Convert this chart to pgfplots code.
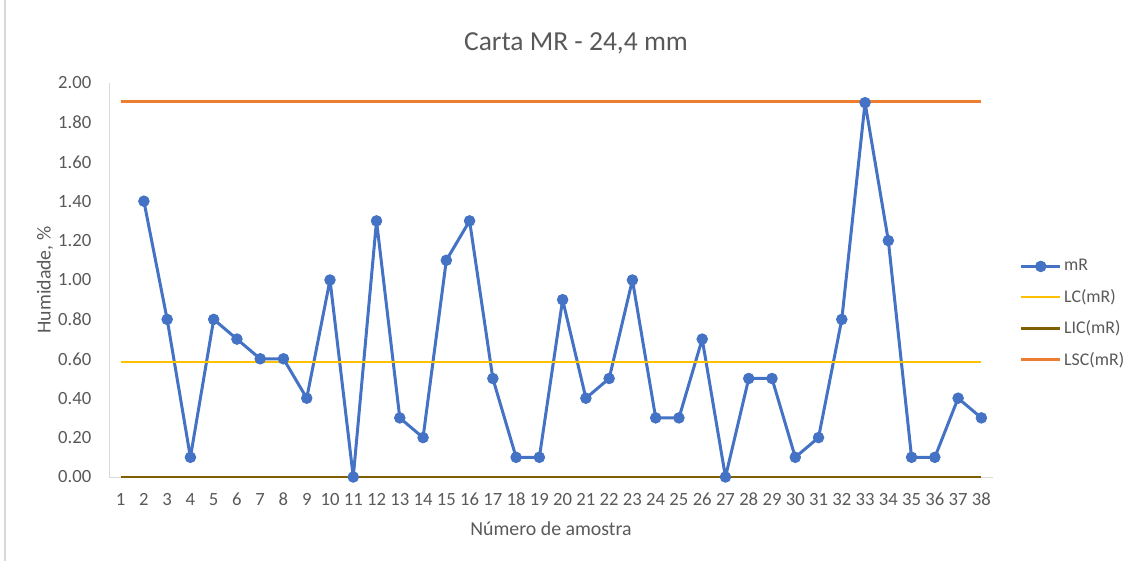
\documentclass[border=0pt]{standalone}
\usepackage{fontspec}
\setmainfont{Carlito}
\usepackage{pgfplots}
\pgfplotsset{compat=1.18}
\definecolor{mrblue}{HTML}{4472C4}
\definecolor{lcyel}{HTML}{FFC000}
\definecolor{licbrown}{HTML}{7F6000}
\definecolor{lscorange}{HTML}{ED7D31}
\definecolor{txtgray}{HTML}{595959}
\definecolor{axgray}{HTML}{D9D9D9}
\begin{document}
\begin{tikzpicture}
\useasboundingbox (-65.4pt,-50.4pt) rectangle (616.8pt,286.2pt);
\draw[axgray, line width=0.8pt] (-62.4pt,-50.4pt) -- (-62.4pt,286.2pt);
\begin{axis}[
  at={(0pt,0pt)}, anchor=south west,
  scale only axis, width=530.4pt, height=236.4pt,
  xmin=0.5, xmax=38.5, ymin=0, ymax=2,
  xtick={1,...,38},
  ytick={0,0.2,...,2.01},
  yticklabel style={/pgf/number format/fixed, /pgf/number format/fixed zerofill, /pgf/number format/precision=2},
  /pgf/number format/assume math mode=true,
  tick style={draw=none},
  axis line style={axgray},
  axis x line=bottom, axis y line=left,
  x axis line style={-}, y axis line style={-},
  ticklabel style={font=\fontsize{11.2}{13}\selectfont, text=txtgray},
  xticklabel style={yshift=-4pt},
  yticklabel style={xshift=-5pt},
  clip=false,
  legend style={at={(1.03,0.415)}, anchor=west, draw=none, fill=none,
    font=\fontsize{10.7}{12}\selectfont, text=txtgray, row sep=5.5pt,
    legend cell align=left, inner xsep=0pt,
    nodes={inner xsep=1.5pt}},
  legend image code/.code={\draw[mark repeat=2,mark phase=2,#1] plot coordinates {(0cm,0cm) (0.41cm,0cm) (0.82cm,0cm)};},
]
\addplot[mrblue, line width=1.8pt, line join=round, mark=*, mark size=3.2pt, mark options={fill=mrblue, draw=mrblue, line width=0.5pt}] coordinates {
(2,1.4) (3,0.8) (4,0.1) (5,0.8) (6,0.7) (7,0.6) (8,0.6) (9,0.4) (10,1.0) (11,0.0)
(12,1.3) (13,0.3) (14,0.2) (15,1.1) (16,1.3) (17,0.5) (18,0.1) (19,0.1) (20,0.9)
(21,0.4) (22,0.5) (23,1.0) (24,0.3) (25,0.3) (26,0.7) (27,0.0) (28,0.5) (29,0.5)
(30,0.1) (31,0.2) (32,0.8) (33,1.9) (34,1.2) (35,0.1) (36,0.1) (37,0.4) (38,0.3)
};
\addlegendentry{mR}
\addplot[lcyel, line width=1.7pt] coordinates {(1,0.584) (38,0.584)};
\addlegendentry{LC(mR)}
\addplot[licbrown, line width=1.7pt] coordinates {(1,0) (38,0)};
\addlegendentry{LIC(mR)}
\addplot[lscorange, line width=1.7pt] coordinates {(1,1.905) (38,1.905)};
\addlegendentry{LSC(mR)}
\end{axis}
\node[text=txtgray, font=\fontsize{16.5}{19}\selectfont] at (280.2pt,260.4pt) {Carta MR - 24,4 mm};
\node[text=txtgray, font=\fontsize{11.9}{14}\selectfont] at (265.2pt,-31.2pt) {Número de amostra};
\node[text=txtgray, font=\fontsize{11.9}{14}\selectfont, rotate=90] at (-38.4pt,118.2pt) {Humidade, \%};
\end{tikzpicture}
\end{document}
